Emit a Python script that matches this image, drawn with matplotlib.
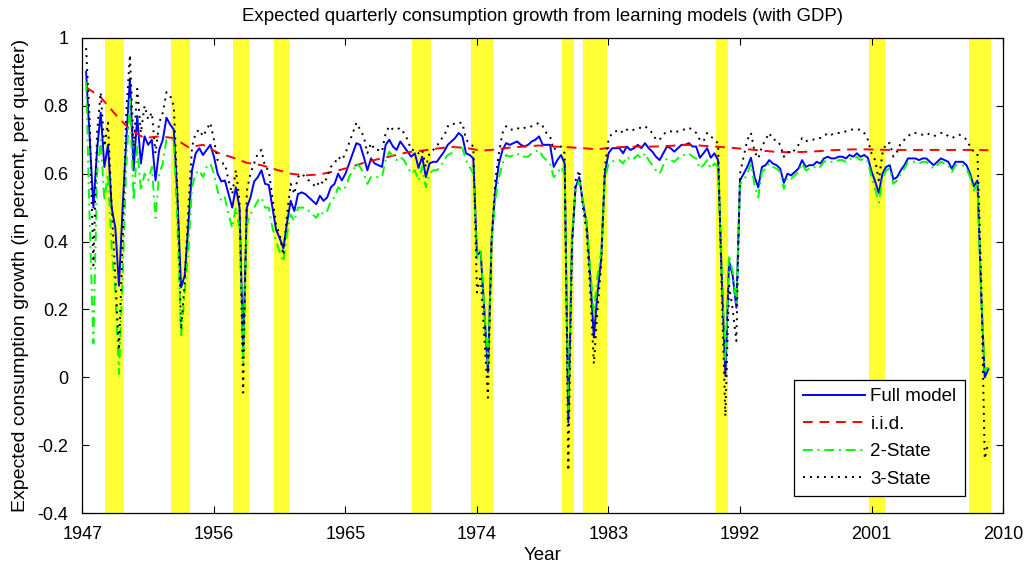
import numpy as np
import matplotlib
matplotlib.use("Agg")
import matplotlib.pyplot as plt

plt.rcParams["font.family"] = ["Liberation Sans", "DejaVu Sans"]

# quarterly sample, one row per year (values at Y.25, Y.5, Y.75, Y+1)
START = 1947.25

full_model = [
    0.90, 0.70, 0.50, 0.67,      # 1947
    0.78, 0.62, 0.685, 0.50,
    0.44, 0.27, 0.50, 0.70,
    0.88, 0.61, 0.77, 0.63,      # 1950
    0.71, 0.685, 0.70, 0.58,
    0.67, 0.70, 0.765, 0.745,
    0.73, 0.53, 0.265, 0.30,
    0.45, 0.61, 0.66, 0.675,
    0.655, 0.67, 0.685, 0.65,    # 1955
    0.60, 0.577, 0.58, 0.54,
    0.50, 0.56, 0.50, 0.08,
    0.50, 0.53, 0.577, 0.59,
    0.61, 0.57, 0.567, 0.50,
    0.435, 0.41, 0.38, 0.455,    # 1960
    0.52, 0.49, 0.54, 0.545,
    0.54, 0.53, 0.52, 0.51,
    0.535, 0.52, 0.53, 0.56,
    0.57, 0.60, 0.58, 0.60,
    0.63, 0.66, 0.69, 0.685,     # 1965
    0.65, 0.61, 0.645, 0.63,
    0.625, 0.62, 0.685, 0.70,
    0.68, 0.67, 0.695, 0.68,
    0.665, 0.65, 0.66, 0.617,
    0.65, 0.59, 0.63, 0.635,     # 1970
    0.635, 0.65, 0.665, 0.685,
    0.695, 0.705, 0.72, 0.71,
    0.66, 0.655, 0.645, 0.36,
    0.37, 0.20, 0.015, 0.405,
    0.55, 0.63, 0.67, 0.69,      # 1975
    0.685, 0.69, 0.695, 0.685,
    0.68, 0.685, 0.695, 0.70,
    0.71, 0.685, 0.685, 0.685,
    0.62, 0.64, 0.655, 0.63,
    -0.133, 0.40, 0.56, 0.59,    # 1980
    0.515, 0.455, 0.30, 0.117,
    0.25, 0.35, 0.60, 0.66,
    0.675, 0.675, 0.675, 0.66,
    0.68, 0.67, 0.675, 0.685,
    0.675, 0.69, 0.675, 0.665,   # 1985
    0.65, 0.64, 0.66, 0.68,
    0.675, 0.665, 0.675, 0.685,
    0.685, 0.69, 0.68, 0.68,
    0.647, 0.66, 0.675, 0.647,
    0.66, 0.64, 0.30, 0.004,     # 1990
    0.342, 0.30, 0.205, 0.58,
    0.60, 0.62, 0.647, 0.59,
    0.56, 0.62, 0.625, 0.64,
    0.63, 0.625, 0.615, 0.573,
    0.60, 0.595, 0.605, 0.615,   # 1995
    0.64, 0.62, 0.625, 0.625,
    0.635, 0.63, 0.645, 0.65,
    0.645, 0.645, 0.65, 0.65,
    0.645, 0.655, 0.65, 0.66,
    0.65, 0.655, 0.647, 0.607,   # 2000
    0.577, 0.543, 0.60, 0.62,
    0.625, 0.583, 0.59, 0.61,
    0.625, 0.645, 0.645, 0.645,
    0.64, 0.645, 0.645, 0.635,
    0.625, 0.635, 0.645, 0.64,   # 2005
    0.635, 0.615, 0.635, 0.635,
    0.635, 0.625, 0.60, 0.563,
    0.58, 0.25, 0.0, 0.024,
]

two_state = [
    0.87, 0.45, 0.10, 0.60,      # 1947
    0.70, 0.52, 0.60, 0.38,
    0.25, 0.01, 0.30, 0.62,
    0.82, 0.52, 0.68, 0.55,      # 1950
    0.60, 0.58, 0.62, 0.47,
    0.60, 0.63, 0.70, 0.70,
    0.70, 0.45, 0.12, 0.25,
    0.38, 0.56, 0.60, 0.61,
    0.59, 0.62, 0.63, 0.60,      # 1955
    0.55, 0.52, 0.53, 0.48,
    0.44, 0.50, 0.44, 0.045,
    0.45, 0.48, 0.50, 0.52,
    0.53, 0.50, 0.50, 0.44,
    0.40, 0.37, 0.34, 0.42,      # 1960
    0.48, 0.46, 0.50, 0.50,
    0.50, 0.49, 0.48, 0.47,
    0.49, 0.48, 0.49, 0.52,
    0.53, 0.56, 0.55, 0.56,
    0.59, 0.61, 0.63, 0.62,      # 1965
    0.60, 0.57, 0.59, 0.59,
    0.59, 0.59, 0.64, 0.665,
    0.65, 0.64, 0.65, 0.64,
    0.62, 0.60, 0.61, 0.58,
    0.62, 0.56, 0.60, 0.61,      # 1970
    0.61, 0.62, 0.64, 0.655,
    0.66, 0.675, 0.68, 0.675,
    0.64, 0.62, 0.60, 0.35,
    0.38, 0.20, 0.04, 0.40,
    0.52, 0.59, 0.63, 0.655,     # 1975
    0.65, 0.655, 0.66, 0.65,
    0.65, 0.65, 0.66, 0.665,
    0.67, 0.65, 0.64, 0.63,
    0.59, 0.60, 0.62, 0.60,
    -0.10, 0.42, 0.55, 0.58,     # 1980
    0.52, 0.46, 0.32, 0.19,
    0.30, 0.37, 0.58, 0.63,
    0.635, 0.64, 0.64, 0.63,
    0.65, 0.64, 0.645, 0.655,
    0.645, 0.66, 0.64, 0.625,    # 1985
    0.61, 0.60, 0.625, 0.645,
    0.64, 0.635, 0.645, 0.655,
    0.655, 0.66, 0.65, 0.645,
    0.615, 0.625, 0.64, 0.615,
    0.63, 0.62, 0.32, 0.045,     # 1990
    0.36, 0.31, 0.22, 0.57,
    0.58, 0.60, 0.63, 0.565,
    0.53, 0.605, 0.615, 0.63,
    0.62, 0.615, 0.605, 0.555,
    0.59, 0.585, 0.595, 0.605,   # 1995
    0.63, 0.61, 0.615, 0.615,
    0.625, 0.62, 0.635, 0.64,
    0.635, 0.635, 0.64, 0.64,
    0.635, 0.645, 0.64, 0.65,
    0.64, 0.645, 0.635, 0.59,    # 2000
    0.555, 0.515, 0.585, 0.61,
    0.615, 0.57, 0.58, 0.60,
    0.615, 0.635, 0.635, 0.635,
    0.63, 0.635, 0.635, 0.625,
    0.615, 0.625, 0.635, 0.63,   # 2005
    0.625, 0.605, 0.625, 0.625,
    0.625, 0.615, 0.59, 0.55,
    0.57, 0.26, 0.02, 0.03,
]

three_state = [
    0.97, 0.75, 0.33, 0.72,      # 1947
    0.84, 0.68, 0.75, 0.50,
    0.30, 0.08, 0.40, 0.78,
    0.95, 0.68, 0.85, 0.72,      # 1950
    0.80, 0.76, 0.78, 0.66,
    0.75, 0.78, 0.84, 0.83,
    0.80, 0.55, 0.14, 0.28,
    0.50, 0.68, 0.72, 0.73,
    0.71, 0.73, 0.75, 0.70,      # 1955
    0.64, 0.63, 0.63, 0.58,
    0.54, 0.61, 0.52, -0.045,
    0.55, 0.60, 0.63, 0.66,
    0.67, 0.62, 0.61, 0.53,
    0.45, 0.42, 0.36, 0.48,      # 1960
    0.57, 0.54, 0.59, 0.60,
    0.59, 0.58, 0.57, 0.56,
    0.58, 0.57, 0.59, 0.62,
    0.63, 0.65, 0.64, 0.66,
    0.69, 0.72, 0.75, 0.73,      # 1965
    0.71, 0.66, 0.69, 0.67,
    0.67, 0.665, 0.72, 0.74,
    0.73, 0.73, 0.735, 0.72,
    0.70, 0.67, 0.67, 0.66,
    0.67, 0.62, 0.66, 0.67,      # 1970
    0.68, 0.70, 0.71, 0.74,
    0.74, 0.75, 0.75, 0.75,
    0.70, 0.69, 0.68, 0.25,
    0.30, 0.12, -0.06, 0.40,
    0.58, 0.66, 0.72, 0.74,      # 1975
    0.73, 0.73, 0.735, 0.73,
    0.735, 0.735, 0.74, 0.745,
    0.75, 0.74, 0.72, 0.71,
    0.67, 0.68, 0.68, 0.66,
    -0.275, 0.38, 0.58, 0.61,    # 1980
    0.50, 0.43, 0.25, 0.04,
    0.20, 0.33, 0.62, 0.70,
    0.72, 0.725, 0.73, 0.72,
    0.73, 0.725, 0.73, 0.735,
    0.735, 0.74, 0.73, 0.72,     # 1985
    0.70, 0.70, 0.715, 0.725,
    0.725, 0.72, 0.725, 0.73,
    0.73, 0.735, 0.73, 0.72,
    0.70, 0.695, 0.72, 0.71,
    0.70, 0.69, 0.25, -0.115,    # 1990
    0.27, 0.20, 0.107, 0.60,
    0.65, 0.70, 0.72, 0.665,
    0.645, 0.68, 0.70, 0.72,
    0.70, 0.70, 0.685, 0.65,
    0.665, 0.66, 0.67, 0.685,    # 1995
    0.705, 0.695, 0.70, 0.70,
    0.705, 0.705, 0.71, 0.72,
    0.715, 0.72, 0.72, 0.72,
    0.725, 0.73, 0.73, 0.73,
    0.73, 0.72, 0.70, 0.66,      # 2000
    0.64, 0.58, 0.66, 0.69,
    0.69, 0.65, 0.665, 0.69,
    0.70, 0.71, 0.72, 0.72,
    0.715, 0.715, 0.72, 0.715,
    0.71, 0.715, 0.72, 0.72,     # 2005
    0.71, 0.705, 0.71, 0.715,
    0.71, 0.70, 0.68, 0.665,
    0.66, 0.30, -0.24, -0.19,
]

# i.i.d. benchmark, one value per year (first quarter of each year, plus the last quarter)
iid = [
    0.855, 0.825, 0.775, 0.73, 0.705, 0.71, 0.705, 0.678, 0.685, 0.662,   # 1947-1956
    0.648, 0.632, 0.625, 0.612, 0.60, 0.595, 0.598, 0.607, 0.618, 0.632,  # 1957-1966
    0.643, 0.653, 0.663, 0.668, 0.674, 0.679, 0.676, 0.668, 0.671, 0.677, # 1967-1976
    0.68, 0.683, 0.68, 0.678, 0.675, 0.672, 0.677, 0.679, 0.68, 0.68,     # 1977-1986
    0.682, 0.685, 0.683, 0.68, 0.677, 0.673, 0.669, 0.665, 0.663, 0.664,  # 1987-1996
    0.666, 0.669, 0.671, 0.672, 0.671, 0.67, 0.67, 0.67, 0.67, 0.67,      # 1997-2006
    0.67, 0.67, 0.669,                                                    # 2007-2008, end
]

# NBER recessions (shaded)
rec_start = [1948.55, 1953.07, 1957.3, 1960.08, 1969.55, 1973.58,
             1979.83, 1981.27, 1990.36, 2000.86, 2007.64]
rec_end = [1949.82, 1954.33, 1958.37, 1961.13, 1970.88, 1975.13,
           1980.65, 1982.87, 1991.15, 2001.93, 2009.2]

xticks = [1947, 1956, 1965, 1974, 1983, 1992, 2001, 2010]
yticks = [-0.4, -0.2, 0, 0.2, 0.4, 0.6, 0.8, 1]
ytick_labels = ["-0.4", "-0.2", "0", "0.2", "0.4", "0.6", "0.8", "1"]

t = START + 0.25 * np.arange(len(full_model))
t_iid = np.append(t[::4], t[-1])

fig = plt.figure(figsize=(10.28, 5.66), dpi=100)
ax = fig.add_axes([0.0802, 0.0935, 0.8955, 0.8395])

for a, b in zip(rec_start, rec_end):
    ax.axvspan(a, b, color="#ffff33", lw=0, zorder=0)

ax.plot(t, full_model, color="#0000ff", lw=1.4, label="Full model")
ax.plot(t_iid, iid, color="#ff0000", lw=1.4, dashes=(5, 3.5), label="i.i.d.")
ax.plot(t, two_state, color="#00ff00", lw=1.4, dashes=(5, 2.5, 1, 2.5), label="2-State")
ax.plot(t, three_state, color="black", lw=1.4, dashes=(1, 2.6), label="3-State")

ax.set_xlim(1947, 2010)
ax.set_ylim(-0.4, 1)
ax.set_xticks(xticks)
ax.set_yticks(yticks)
ax.set_yticklabels(ytick_labels)
ax.tick_params(direction="in", top=True, right=True, length=5, labelsize=13)
ax.tick_params(axis="x", pad=9)
ax.tick_params(axis="y", pad=10)
for s in ax.spines.values():
    s.set_linewidth(0.9)

ax.set_title("Expected quarterly consumption growth from learning models (with GDP)",
             fontsize=13.4, pad=12)
ax.set_xlabel("Year", fontsize=13.5, labelpad=3)
ax.set_ylabel("Expected consumption growth (in percent, per quarter)", fontsize=14,
              labelpad=6)

leg = ax.legend(loc="lower right", bbox_to_anchor=(0.9587, 0.0357), borderaxespad=0,
                fancybox=False, framealpha=1, edgecolor="black", fontsize=13.5,
                handlelength=3.3, handletextpad=0.3, labelspacing=0.55,
                borderpad=0.45)
leg.get_frame().set_linewidth(0.9)

fig.savefig("out.png", dpi=100)
